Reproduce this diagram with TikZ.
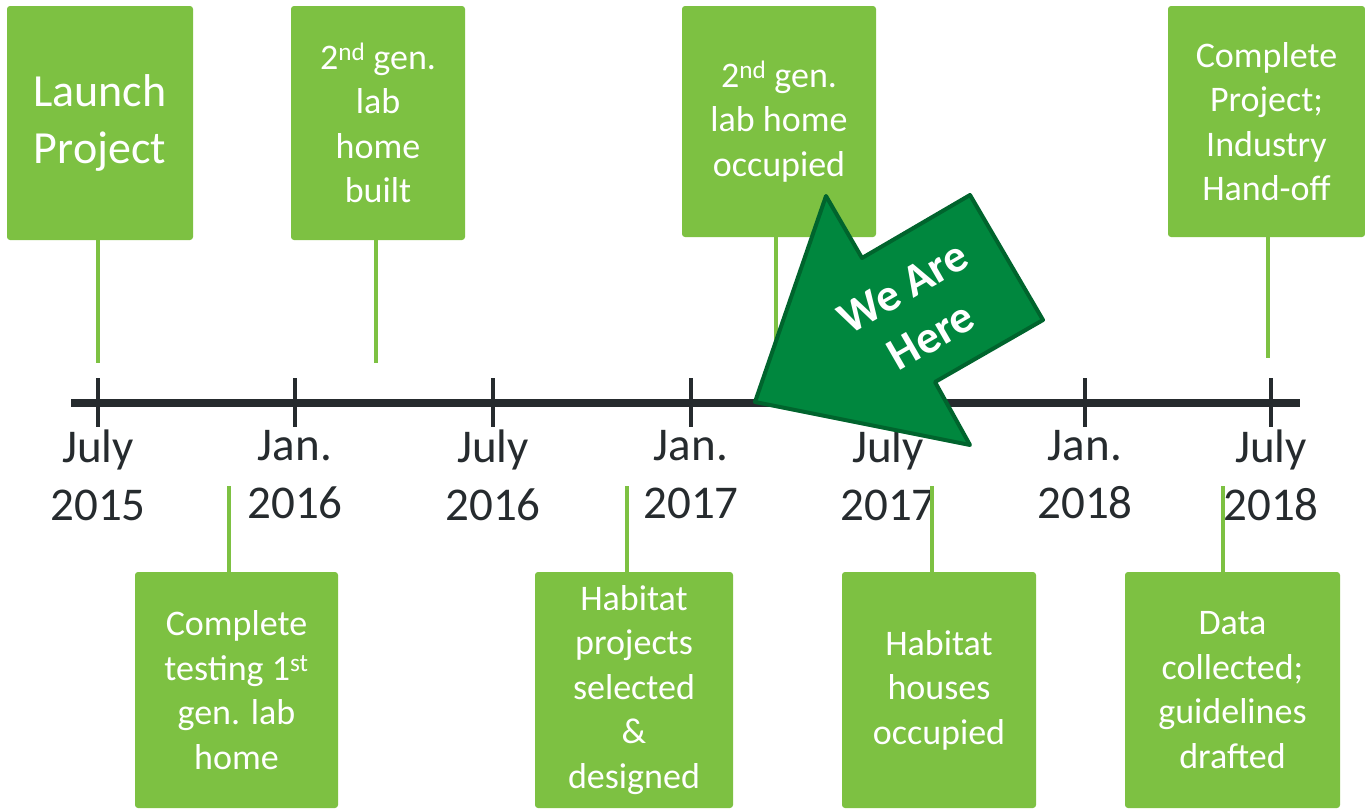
\documentclass[tikz,border=0pt]{standalone}
\usepackage{fontspec}
\setmainfont{Carlito}
\usepackage{xcolor}
\usepackage{tikz}
\definecolor{leaf}{RGB}{125,193,66}
\definecolor{forest}{RGB}{0,135,62}
\definecolor{forestdark}{RGB}{0,100,45}
\definecolor{ink}{RGB}{38,43,46}

\begin{document}
\begin{tikzpicture}[x=1pt,y=-1pt,
    event/.style={fill=leaf,rounded corners=3pt,text=white,align=center,inner sep=0pt,font=\fontsize{36}{44.5}\selectfont},
    stem/.style={draw=leaf,line width=4pt},
    date/.style={text=ink,align=center,font=\fontsize{47}{58}\selectfont}]
    \useasboundingbox (0,0) rectangle (1365,811);

    \node[event,minimum width=186pt,minimum height=234pt,font=\fontsize{46}{57}\selectfont] (launch) at (100,123) {Launch\\Project};
    \node[event,minimum width=174pt,minimum height=234pt] (built) at (378,123) {2\textsuperscript{nd} gen.\\lab\\home\\built};
    \node[event,minimum width=194pt,minimum height=231pt] (occupied) at (779,121.5) {2\textsuperscript{nd} gen.\\lab home\\occupied};
    \node[event,minimum width=197pt,minimum height=231pt] (handoff) at (1266.5,121.5) {Complete\\Project;\\Industry\\Hand-off};

    \node[event,minimum width=203pt,minimum height=236pt] (testing) at (236.5,690) {Complete\\testing 1\textsuperscript{st}\\gen. lab\\home};
    \node[event,minimum width=198pt,minimum height=236pt] (selected) at (634,690) {Habitat\\projects\\selected\\\&\\designed};
    \node[event,minimum width=194pt,minimum height=236pt] (houses) at (939,690) {Habitat\\houses\\occupied};
    \node[event,minimum width=215pt,minimum height=236pt] (drafted) at (1232.5,690) {Data\\collected;\\guidelines\\drafted};

    \coordinate (tl-west) at (71,403);
    \coordinate (tl-east) at (1300,403);
    \draw[ink,line width=8pt] (tl-west) -- (tl-east);
    \foreach \x/\mon/\yr [count=\i] in {98/July/2015, 295/Jan./2016, 493/July/2016, 691/Jan./2017, 888/July/2017, 1085/Jan./2018, 1271/July/2018} {
        \draw[ink,line width=4pt] (\x,378) -- (\x,427);
        \node[date] (date\i) at (\x,475) {\mon\\\yr};
    }

    \coordinate (launch-end) at (98,363);
    \coordinate (built-end) at (376,363);
    \coordinate (occupied-end) at (776,363);
    \coordinate (handoff-end) at (1268,358);
    \coordinate (testing-end) at (229,486);
    \coordinate (selected-end) at (627,486);
    \coordinate (houses-end) at (932,486);
    \coordinate (drafted-end) at (1223,486);
    \draw[stem] (launch-end |- launch.south) -- (launch-end);
    \draw[stem] (built-end |- built.south) -- (built-end);
    \draw[stem] (occupied-end |- occupied.south) -- (occupied-end);
    \draw[stem] (handoff-end |- handoff.south) -- (handoff-end);
    \draw[stem] (testing-end |- testing.north) -- (testing-end);
    \draw[stem] (selected-end |- selected.north) -- (selected-end);
    \draw[stem] (houses-end |- houses.north) -- (houses-end);
    \draw[stem] (drafted-end |- drafted.north) -- (drafted-end);

    \filldraw[fill=forest,draw=forestdark,line width=4pt,line join=round] (755,402) -- (826,196) -- (862,258) -- (970,195) -- (1043,320) -- (935,382) -- (970,445) -- cycle;
    \node[text=white,rotate=30,align=center,font=\bfseries\fontsize{46}{56}\selectfont] (here) at (917,312) {We Are\\Here};
\end{tikzpicture}
\end{document}
